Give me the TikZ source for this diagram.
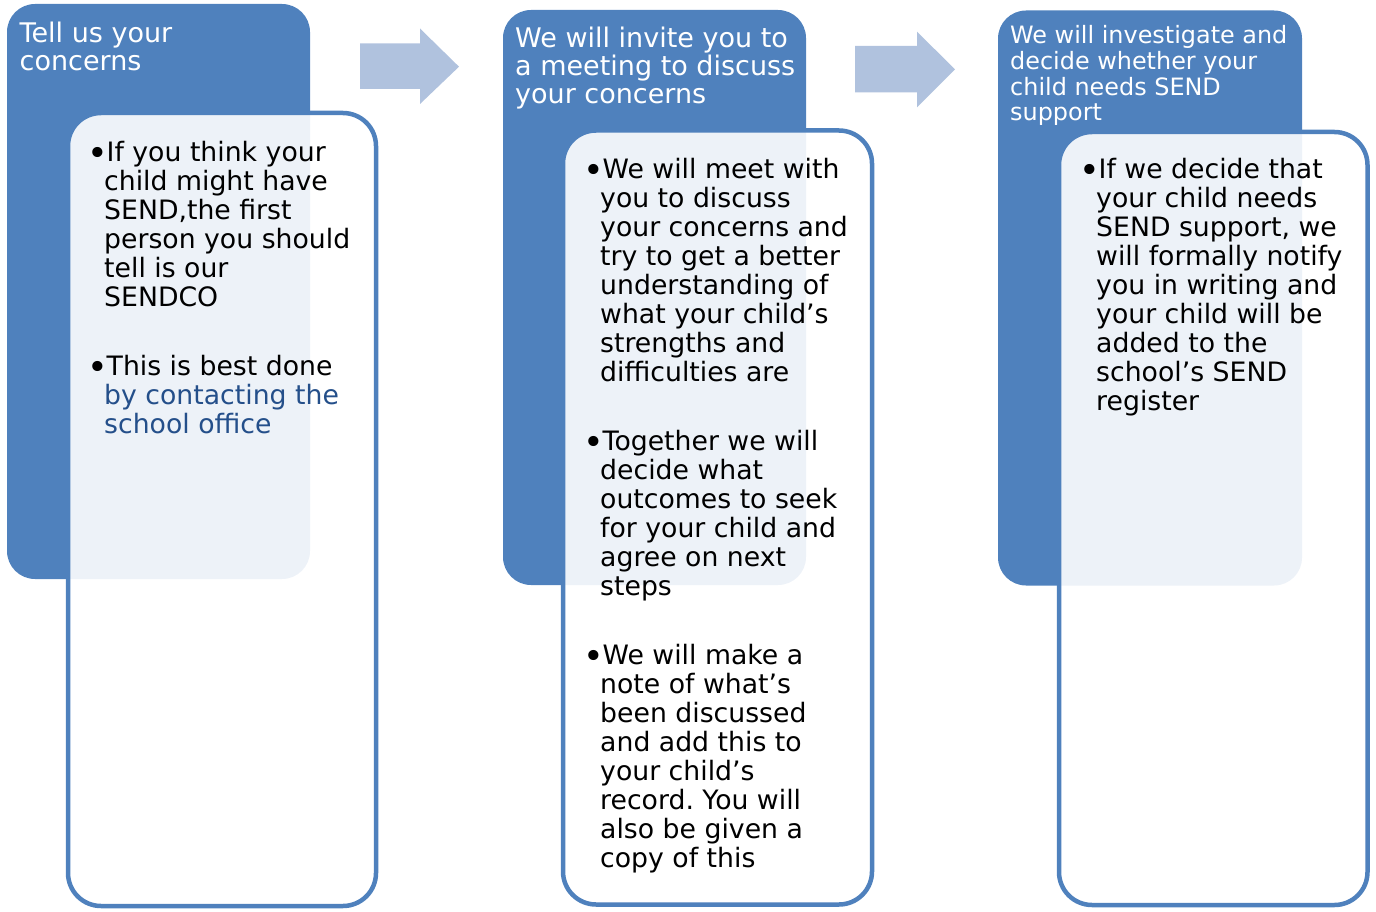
\documentclass[tikz,border=0pt]{standalone}
\usepackage{fontspec}
\setmainfont{DejaVu Sans}
\definecolor{boxblue}{RGB}{79,129,189}
\definecolor{arrowblue}{RGB}{176,194,222}
\definecolor{linkblue}{RGB}{36,79,138}
\newcommand{\bul}{\llap{\raisebox{-4pt}{\fontsize{35}{29}\selectfont •}\hspace{-3.5pt}}\hspace{2.5pt}}
\frenchspacing
\begin{document}
\begin{tikzpicture}[x=1pt,y=-1pt,
  bluebox/.style={fill=boxblue, rounded corners=28pt, inner sep=0pt, outer sep=0pt, anchor=north west},
  whitebox/.style={draw=boxblue, line width=4.5pt, fill=white, fill opacity=0.9, rounded corners=33pt, inner sep=0pt, outer sep=0pt, anchor=north west},
  headtext/.style={text=white, align=left, inner sep=0pt, anchor=north west, font=\fontsize{27}{28}\selectfont},
  headsmall/.style={text=white, align=left, inner sep=0pt, anchor=north west, font=\fontsize{23.9}{25.8}\selectfont},
  bodytext/.style={text=black, align=left, inner sep=0pt, anchor=north west, font=\fontsize{26.7}{29}\selectfont},
  bigarrow/.style={fill=arrowblue}]
\useasboundingbox (0,0) rectangle (1376,912);

% ---- step 1
\node[bluebox, minimum width=303pt, minimum height=575pt] (b1) at (7,4) {};
\node[whitebox, minimum width=308pt, minimum height=793pt] (w1) at (68,113) {};
\node[headtext] (h1) at (19.5,18) {\rule{0pt}{24pt}Tell us your\\concerns};
\node[bodytext] (t1) at (104,136) {\rule{0pt}{25pt}\bul If you think your\\child might have\\SEND,the first\\person you should\\tell is our\\SENDCO\\[40pt]\bul This is best done\\\textcolor{linkblue}{by contacting the}\\\textcolor{linkblue}{school office}};

% ---- arrow 1
\fill[bigarrow] (360,43.5) -- (420,43.5) -- (420,28.5) -- (459,66.7) -- (420,104) -- (420,89) -- (360,89) -- cycle;

% ---- step 2
\node[bluebox, minimum width=303pt, minimum height=575pt] (b2) at (503,10) {};
\node[whitebox, minimum width=309pt, minimum height=774pt] (w2) at (563,130.5) {};
\node[headtext] (h2) at (515,23) {\rule{0pt}{24pt}We will invite you to\\a meeting to discuss\\your concerns};
\node[bodytext] (t2) at (600,153) {\rule{0pt}{25pt}\bul We will meet with\\you to discuss\\your concerns and\\try to get a better\\understanding of\\what your child’s\\strengths and\\difficulties are\\[40pt]\bul Together we will\\decide what\\outcomes to seek\\for your child and\\agree on next\\steps\\[40pt]\bul We will make a\\note of what’s\\been discussed\\and add this to\\your child’s\\record. You will\\also be given a\\copy of this};

% ---- arrow 2
\fill[bigarrow] (855,46) -- (917,46) -- (917,31.7) -- (955,69.3) -- (917,107.3) -- (917,92.3) -- (855,92.3) -- cycle;

% ---- step 3
\node[bluebox, minimum width=304pt, minimum height=575pt] (b3) at (998,10.5) {};
\node[whitebox, minimum width=308.5pt, minimum height=773pt] (w3) at (1059,132) {};
\node[headsmall] (h3) at (1010,21.3) {\rule{0pt}{22pt}We will investigate and\\decide whether your\\child needs SEND\\support};
\node[bodytext] (t3) at (1096,153) {\rule{0pt}{25pt}\bul If we decide that\\your child needs\\SEND support, we\\will formally notify\\you in writing and\\your child will be\\added to the\\school’s SEND\\register};
\end{tikzpicture}
\end{document}
